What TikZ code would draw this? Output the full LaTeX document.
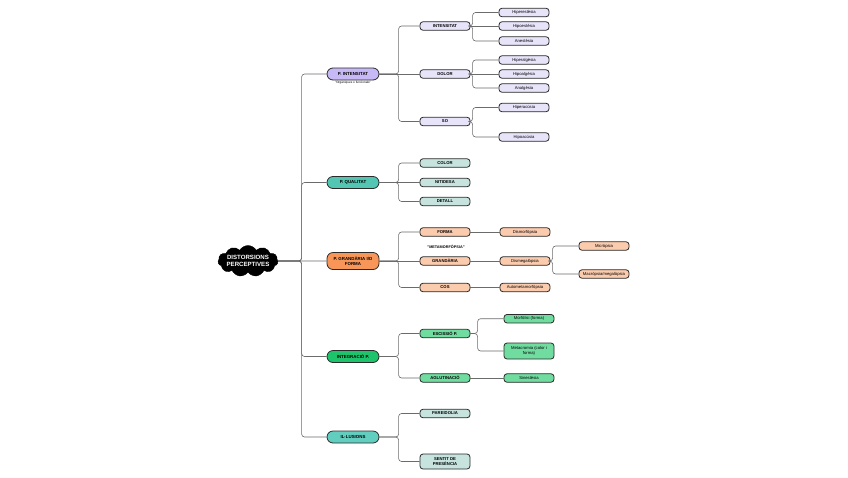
\documentclass[tikz,border=0pt]{standalone}
\usepackage{fontspec}
\setmainfont{Liberation Sans}
\usetikzlibrary{shapes.symbols}
\definecolor{purA}{HTML}{C7B9F6}
\definecolor{purB}{HTML}{E7E4FA}
\definecolor{tealA}{HTML}{52C6B3}
\definecolor{tealB}{HTML}{C6E3DE}
\definecolor{oraA}{HTML}{F8965A}
\definecolor{oraB}{HTML}{FBCBAE}
\definecolor{grnA}{HTML}{1EC46B}
\definecolor{grnB}{HTML}{70DCA0}
\definecolor{ilA}{HTML}{62CEBF}
\definecolor{edgec}{HTML}{6B6B6B}
\definecolor{boxc}{HTML}{2A2A2A}
\tikzset{
  box/.style={draw=boxc, line width=0.8pt, rounded corners=3pt, inner sep=0.5pt, align=center,
    font=\fontsize{4.2}{4.9}\selectfont\bfseries},
  lone/.style={box, rounded corners=6pt, minimum width=52pt, minimum height=12pt,
    font=\fontsize{4.4}{5.1}\selectfont\bfseries},
  ltwo/.style={box, minimum width=50pt, minimum height=8.5pt},
  leaf/.style={box, font=\fontsize{4.2}{4.9}\selectfont, minimum width=50pt, minimum height=8.5pt},
  conn/.style={draw=edgec, line width=0.6pt, rounded corners=3pt},
}
\begin{document}
\begin{tikzpicture}[x=1pt,y=-1pt]
\useasboundingbox[fill=white] (0,0) rectangle (848,477);
% root
\node[cloud, cloud puffs=11, cloud puff arc=120, aspect=1.9, fill=black, draw=black,
  minimum width=60pt, minimum height=31pt, inner sep=0pt] (root) at (248,261) {};
\node[text=white, align=center, font=\fontsize{6.1}{7.2}\selectfont\bfseries] (rootlbl) at (248,261) {DISTORSIONS\\PERCEPTIVES};
% level 1
\node[lone, fill=purA] (int) at (353,74) {P. INTENSITAT};
\node[font=\fontsize{3.1}{3.6}\selectfont] (intcap) at (353,83) {"Orgàniques o funcionals"};
\node[lone, fill=tealA] (qual) at (353,182.5) {P. QUALITAT};
\node[lone, fill=oraA, minimum height=17pt] (gran) at (353,261) {P. GRANDÀRIA I/O\\FORMA};
\node[lone, fill=grnA] (integ) at (353,356.5) {INTEGRACIÓ P.};
\node[lone, fill=ilA] (ill) at (353,437) {IL·LUSIONS};
% level 2
\node[ltwo, fill=purB] (intens) at (445,26) {INTENSITAT};
\node[ltwo, fill=purB] (dolor) at (445,74) {DOLOR};
\node[ltwo, fill=purB] (so) at (445,121.5) {SO};
\node[ltwo, fill=tealB] (color) at (445,163) {COLOR};
\node[ltwo, fill=tealB] (nitid) at (445,182.5) {NITIDESA};
\node[ltwo, fill=tealB] (detall) at (445,201.5) {DETALL};
\node[ltwo, fill=oraB] (forma) at (445,232) {FORMA};
\node[font=\fontsize{3.8}{4.4}\selectfont\bfseries] (metacap) at (446,246.5) {"METAMORFÒPSIA"};
\node[ltwo, fill=oraB] (grand) at (445,261) {GRANDÀRIA};
\node[ltwo, fill=oraB] (cos) at (445,287.5) {COS};
\node[ltwo, fill=grnB] (escis) at (445,333.5) {ESCISSIÓ P.};
\node[ltwo, fill=grnB] (aglut) at (445,378) {AGLUTINACIÓ};
\node[ltwo, fill=tealB] (pareid) at (445,413.5) {PAREIDOLIA};
\node[ltwo, fill=tealB, minimum height=15pt] (sentit) at (445,461.5) {SENTIT DE\\PRESÈNCIA};
% leaves
\node[leaf, fill=purB] (hiperest) at (524,12.5) {Hiperestèsia};
\node[leaf, fill=purB] (hipoest) at (524,26) {Hipoestèsia};
\node[leaf, fill=purB] (anest) at (524,41) {Anestèsia};
\node[leaf, fill=purB] (hiperalg) at (524,60) {Hiperalgèsia};
\node[leaf, fill=purB] (hipoalg) at (524,74) {Hipoalgèsia};
\node[leaf, fill=purB] (analg) at (524,88) {Analgèsia};
\node[leaf, fill=purB] (hiperac) at (524,107.5) {Hiperacúsia};
\node[leaf, fill=purB] (hipoac) at (524,137) {Hipoacúsia};
\node[leaf, fill=oraB] (dismorf) at (525,232) {Dismorfòpsia};
\node[leaf, fill=oraB] (dismeg) at (525,261) {Dismegalòpsia};
\node[leaf, fill=oraB] (autom) at (525,287.5) {Autometamorfòpsia};
\node[leaf, fill=oraB] (micro) at (604,246) {Micròpsia};
\node[leaf, fill=oraB] (macro) at (604,274) {Macròpsia/megalòpsia};
\node[leaf, fill=grnB] (morfol) at (529,318.7) {Morfòlisi (forma)};
\node[leaf, fill=grnB, minimum height=16pt] (metacr) at (529,351) {Metacromia (color i\\forma)};
\node[leaf, fill=grnB] (sinest) at (529,378) {Sinestèsia};
% connectors level 1
\foreach \c in {int,qual,integ,ill}
  \draw[conn] (root.east) -| ([xshift=-25pt]\c.west) -- (\c.west);
\draw[conn] (root.east) -- (gran.west);
% level 2
\draw[conn] (int.east) -| ([xshift=-21pt]intens.west) -- (intens.west);
\draw[conn] (int.east) -- (dolor.west);
\draw[conn] (int.east) -| ([xshift=-21pt]so.west) -- (so.west);
\draw[conn] (qual.east) -| ([xshift=-21pt]color.west) -- (color.west);
\draw[conn] (qual.east) -- (nitid.west);
\draw[conn] (qual.east) -| ([xshift=-21pt]detall.west) -- (detall.west);
\draw[conn] (gran.east) -| ([xshift=-21pt]forma.west) -- (forma.west);
\draw[conn] (gran.east) -- (grand.west);
\draw[conn] (gran.east) -| ([xshift=-21pt]cos.west) -- (cos.west);
\draw[conn] (integ.east) -| ([xshift=-21pt]escis.west) -- (escis.west);
\draw[conn] (integ.east) -| ([xshift=-21pt]aglut.west) -- (aglut.west);
\draw[conn] (ill.east) -| ([xshift=-21pt]pareid.west) -- (pareid.west);
\draw[conn] (ill.east) -| ([xshift=-21pt]sentit.west) -- (sentit.west);
% leaves
\draw[conn] (intens.east) -| ([xshift=-26pt]hiperest.west) -- (hiperest.west);
\draw[conn] (intens.east) -- (hipoest.west);
\draw[conn] (intens.east) -| ([xshift=-26pt]anest.west) -- (anest.west);
\draw[conn] (dolor.east) -| ([xshift=-26pt]hiperalg.west) -- (hiperalg.west);
\draw[conn] (dolor.east) -- (hipoalg.west);
\draw[conn] (dolor.east) -| ([xshift=-26pt]analg.west) -- (analg.west);
\draw[conn] (so.east) -| ([xshift=-26pt]hiperac.west) -- (hiperac.west);
\draw[conn] (so.east) -| ([xshift=-26pt]hipoac.west) -- (hipoac.west);
\draw[conn] (forma.east) -- (dismorf.west);
\draw[conn] (grand.east) -- (dismeg.west);
\draw[conn] (cos.east) -- (autom.west);
\draw[conn] (dismeg.east) -| ([xshift=-26pt]micro.west) -- (micro.west);
\draw[conn] (dismeg.east) -| ([xshift=-26pt]macro.west) -- (macro.west);
\draw[conn] (escis.east) -| ([xshift=-26pt]morfol.west) -- (morfol.west);
\draw[conn] (escis.east) -| ([xshift=-26pt]metacr.west) -- (metacr.west);
\draw[conn] (aglut.east) -- (sinest.west);
\end{tikzpicture}
\end{document}
